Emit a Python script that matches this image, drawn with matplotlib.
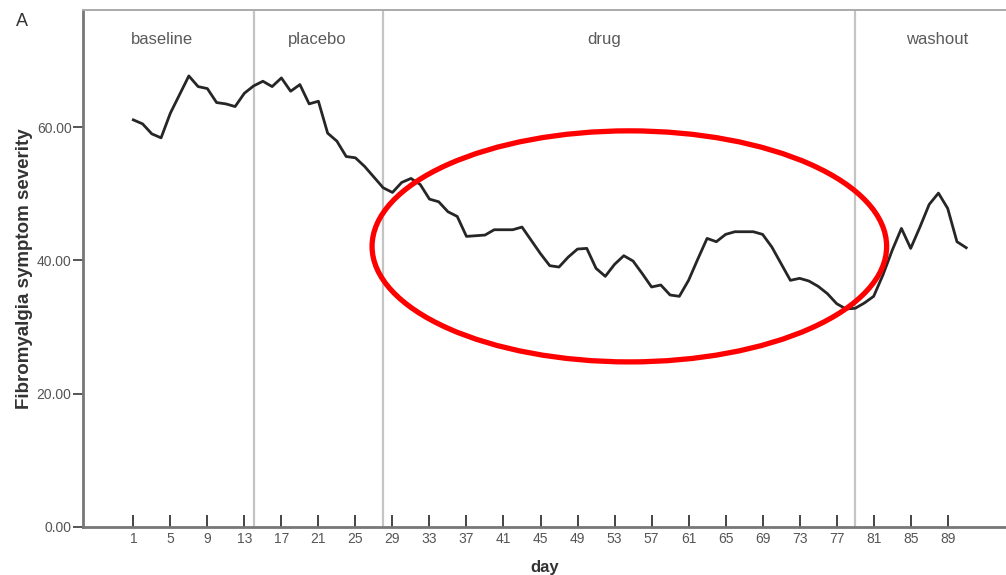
import matplotlib
matplotlib.use("Agg")
import matplotlib.pyplot as plt
from matplotlib.patches import Ellipse

plt.rcParams['font.family'] = ['Liberation Sans', 'DejaVu Sans']

# daily mean symptom severity, days 1..91
days = list(range(1, 92))
severity = [
    61.1, 60.5, 59.0, 58.4, 62.1, 64.9, 67.7, 66.1, 65.8, 63.7,
    63.5, 63.1, 65.1, 66.2, 66.9, 66.1, 67.4, 65.4, 66.4, 63.5,
    63.9, 59.1, 57.9, 55.6, 55.4, 54.1, 52.5, 50.9, 50.2, 51.7,
    52.3, 51.4, 49.2, 48.8, 47.3, 46.6, 43.6, 43.7, 43.8, 44.6,
    44.6, 44.6, 45.0, 43.0, 41.0, 39.2, 39.0, 40.5, 41.7, 41.8,
    38.8, 37.6, 39.4, 40.7, 39.9, 38.0, 36.0, 36.3, 34.8, 34.6,
    37.0, 40.2, 43.3, 42.8, 43.9, 44.3, 44.3, 44.3, 43.9, 42.0,
    39.5, 37.0, 37.3, 36.9, 36.1, 35.0, 33.5, 32.7, 32.8, 33.6,
    34.6, 37.8, 41.5, 44.8, 41.8, 45.0, 48.4, 50.1, 47.8, 42.8,
    41.9,
]

# phase boundaries (day) and phase labels
phase_breaks = [14, 28, 79]
phase_names = ["baseline", "placebo", "drug", "washout"]
phase_label_x = [4.1, 20.9, 51.9, 87.9]

x_ticks = list(range(1, 90, 4))
y_ticks = [0, 20, 40, 60]

# red highlight ellipse over the drug period
ell_center = (54.6, 42.1)
ell_width = 55.6
ell_height = 34.7

fig = plt.figure(figsize=(10.06, 5.75), dpi=100)
ax = fig.add_axes([0.0822, 0.084, 0.9178, 0.8986])

for b in phase_breaks:
    ax.axvline(b, color='#c4c4c4', linewidth=1.6, zorder=1)

ax.plot(days, severity, color='#262626', linewidth=2.0, zorder=3)

for name, lx in zip(phase_names, phase_label_x):
    ax.text(lx, 73.1, name, ha='center', va='center', fontsize=12, color='#5a5a5a')

ax.add_patch(Ellipse(ell_center, ell_width, ell_height, fill=False,
                     edgecolor='#ff0000', linewidth=3.8, zorder=4))

ax.set_xlim(-4.47, 95.3)
ax.set_ylim(0, 77.6)
ax.set_xticks(x_ticks)
ax.set_yticks(y_ticks)
ax.set_yticklabels([f"{v:.2f}" for v in y_ticks])

ax.tick_params(axis='x', direction='in', length=9, width=1.4, color='#444444',
               labelsize=10, labelcolor='#555555', pad=4)
ax.tick_params(axis='y', direction='out', length=7, width=1.4, color='#555555',
               labelsize=10, labelcolor='#555555', pad=1)

for side in ['left', 'bottom']:
    ax.spines[side].set_color('#777777')
    ax.spines[side].set_linewidth(2.0)
ax.spines['top'].set_color('#aaaaaa')
ax.spines['top'].set_linewidth(1.4)
ax.spines['right'].set_visible(False)

ax.set_xlabel('day', fontsize=12, fontweight='bold', color='#333333', labelpad=10)
ax.set_ylabel('Fibromyalgia symptom severity', fontsize=13.5, fontweight='bold',
              color='#333333', labelpad=3)

fig.text(0.022, 0.962, 'A', fontsize=13, color='#333333', ha='center', va='center')

fig.savefig('out.png', dpi=100)
